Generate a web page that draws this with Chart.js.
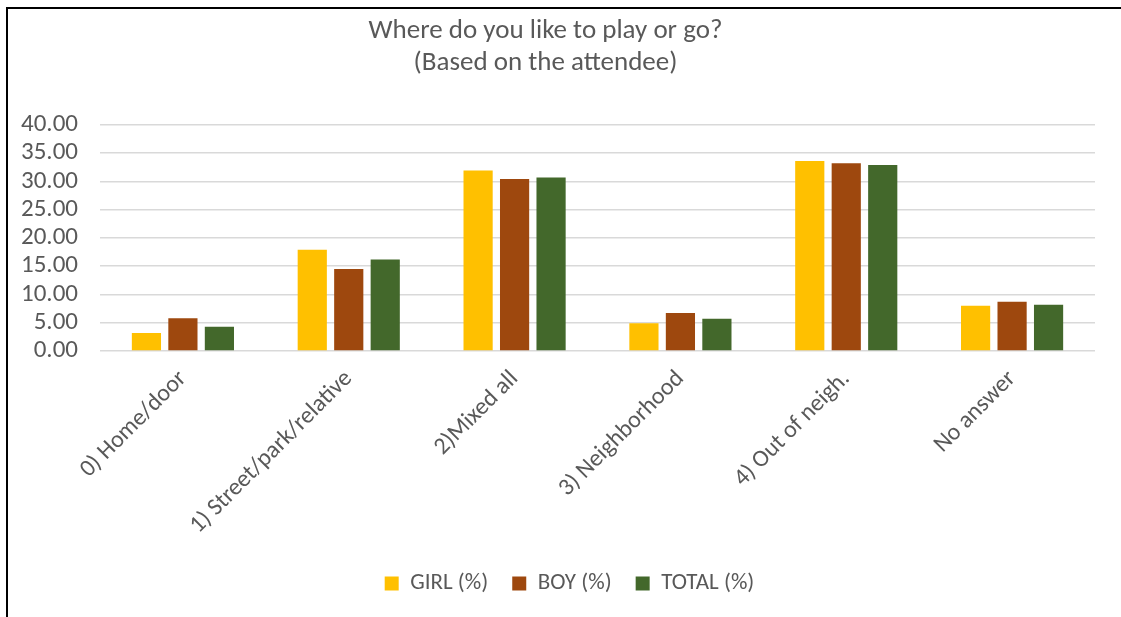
<!DOCTYPE html>
<html>
<head>
<meta charset="utf-8">
<script src="https://cdn.jsdelivr.net/npm/chart.js@4"></script>
<style>
  html, body { margin: 0; padding: 0; background: #fff; overflow: hidden; }
  #marco {
    position: absolute; left: 6px; top: 7px; width: 1200px; height: 700px;
    border-left: 2px solid #000; border-top: 2px solid #000;
  }
  #contenedor { position: absolute; left: 8px; top: 9px; width: 1149px; height: 608px; }
</style>
</head>
<body>
<div id="marco"></div>
<div id="contenedor"><canvas id="graficoLugares"></canvas></div>
<script>
const categorias = ['0) Home/door', '1) Street/park/relative', '2)Mixed all', '3) Neighborhood', '4) Out of neigh.', 'No answer'];
const seriesNombres = ['GIRL (%)', 'BOY (%)', 'TOTAL (%)'];
const valoresNina = [3.2, 17.9, 31.9, 4.9, 33.6, 8.0];
const valoresNino = [5.8, 14.5, 30.4, 6.7, 33.2, 8.7];
const valoresTotal = [4.3, 16.2, 30.7, 5.7, 32.9, 8.2];
const colores = ['#FFC000', '#9E480E', '#43682B'];

const fuente = 'Carlito, Lato, "Open Sans", sans-serif';
const gris = '#595959';

document.addEventListener('DOMContentLoaded', () => {
    inicializarGrafico();
});

// corre el titulo un poco a la izquierda (el lienzo es mas ancho que la ventana)
const moverTitulo = {
    id: 'moverTitulo',
    afterLayout(chart) {
        if (chart.titleBlock) {
            chart.titleBlock.left -= 24;
            chart.titleBlock.right -= 24;
        }
    }
};

function inicializarGrafico() {
    const datos = [valoresNina, valoresNino, valoresTotal];
    const ctx = document.getElementById('graficoLugares').getContext('2d');

    new Chart(ctx, {
        type: 'bar',
        data: {
            labels: categorias,
            datasets: seriesNombres.map((nombre, i) => ({
                label: nombre,
                data: datos[i],
                backgroundColor: colores[i],
                categoryPercentage: 0.66,
                barPercentage: 0.8
            }))
        },
        plugins: [moverTitulo],
        options: {
            responsive: true,
            maintainAspectRatio: false,
            animation: false,
            layout: { padding: { left: 0, right: 26, top: 0, bottom: 12 } },
            plugins: {
                title: {
                    display: true,
                    text: ['Where do you like to play or go?', '(Based on the attendee)'],
                    color: gris,
                    font: { family: fuente, size: 27, weight: 'normal', lineHeight: 1.2 },
                    padding: { top: 6, bottom: 45 }
                },
                legend: {
                    position: 'bottom',
                    labels: {
                        color: gris,
                        boxWidth: 14,
                        boxHeight: 14,
                        padding: 24,
                        font: { family: fuente, size: 23 }
                    }
                },
                tooltip: { enabled: false }
            },
            scales: {
                x: {
                    grid: { display: false },
                    border: { display: false },
                    ticks: {
                        color: gris,
                        font: { family: fuente, size: 24 },
                        minRotation: 45,
                        maxRotation: 45,
                        padding: 6
                    },
                    afterFit: (scale) => { scale.height = 197; }
                },
                y: {
                    min: 0,
                    max: 40,
                    grid: { color: '#D9D9D9', lineWidth: 1.5, drawTicks: false },
                    border: { display: false },
                    ticks: {
                        stepSize: 5,
                        autoSkip: false,
                        color: gris,
                        padding: 22,
                        font: { family: fuente, size: 25 },
                        callback: (v) => Number(v).toFixed(2)
                    },
                    afterFit: (scale) => { scale.width = 92; }
                },
                // eje vacio a la derecha, solo reserva espacio
                margen: {
                    type: 'linear',
                    position: 'right',
                    grid: { display: false },
                    border: { display: false },
                    ticks: { display: false },
                    afterFit: (scale) => { scale.width = 36; }
                }
            }
        }
    });
}
</script>
</body>
</html>
